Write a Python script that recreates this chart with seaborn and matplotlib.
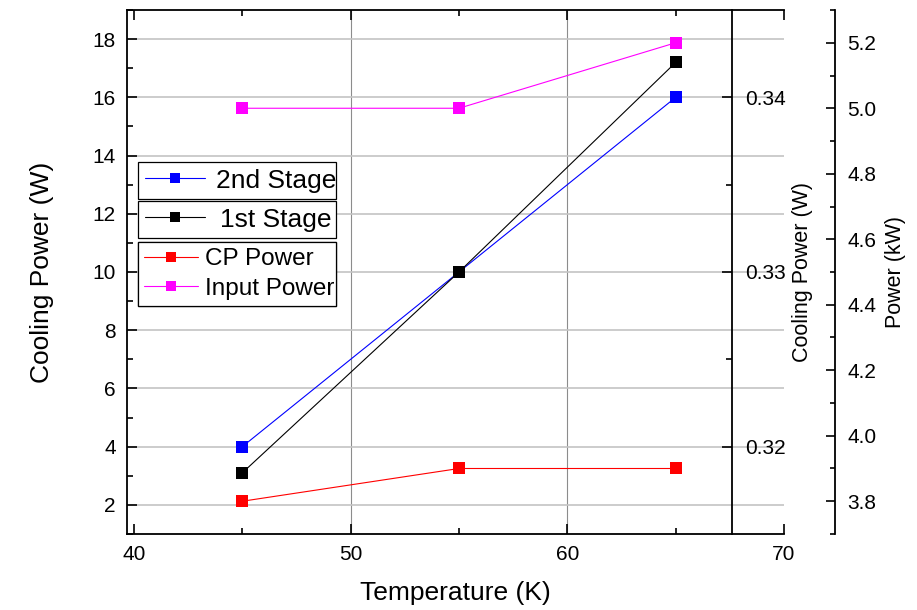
import numpy as np
import seaborn as sns
import matplotlib.pyplot as plt
from matplotlib.lines import Line2D
from matplotlib.ticker import MultipleLocator, FixedLocator, FormatStrFormatter

temps = [45, 55, 65]
stage2 = [4.0, 10.0, 16.0]
stage1 = [3.1, 10.0, 17.2]
cp_power = [3.8, 3.9, 3.9]
input_power = [5.0, 5.0, 5.2]

sns.set_theme(style="ticks")
plt.rcParams["font.family"] = ["Liberation Sans", "DejaVu Sans"]
for k in ["text.color", "axes.labelcolor", "xtick.color", "ytick.color", "axes.edgecolor"]:
    plt.rcParams[k] = "black"

fig = plt.figure(figsize=(9.17, 6.10), dpi=100)
ax = fig.add_axes([0.1385, 0.1246, 0.7165, 0.8590])
ax2 = ax.twinx()
ax3 = ax.twinx()

lw = 0.8
ms = 8
series = [
    (ax, stage2, "blue", "2nd Stage"),
    (ax, stage1, "black", "1st Stage"),
    (ax3, cp_power, "red", "CP Power"),
    (ax3, input_power, "magenta", "Input Power"),
]
for a, vals, col, name in series:
    sns.lineplot(x=temps, y=vals, ax=a, color=col, lw=lw, marker="s",
                 markersize=ms, markeredgewidth=0, legend=False)

# main axes
ax.set_xlim(39.68, 70)
ax.set_ylim(1, 19)
ax.set_xticks([40, 50, 60, 70])
ax.xaxis.set_minor_locator(MultipleLocator(5))
ax.set_yticks(np.arange(2, 19, 2))
ax.yaxis.set_minor_locator(MultipleLocator(1))
ax.set_axisbelow(True)
ax.yaxis.grid(True, color="#c4c4c4", lw=1.2)
ax.xaxis.grid(True, color="#8c8c8c", lw=0.8)
for gl, t in zip(ax.xaxis.get_gridlines(), ax.get_xticks()):
    if t in (40, 70):
        gl.set_visible(False)
ax.spines["right"].set_visible(False)
for s in ["left", "bottom", "top"]:
    ax.spines[s].set_linewidth(1.3)
ax.tick_params(axis="both", which="both", direction="in", top=True, right=False,
               labelsize=15, width=1.2)
ax.tick_params(which="major", length=7, pad=8)
ax.tick_params(which="minor", length=4.5)
ax.set_xlabel("Temperature (K)", fontsize=19, labelpad=12)
ax.set_ylabel("Cooling Power (W)", fontsize=19, labelpad=28)

# inner right axis
ax2.set_ylim(0.315, 0.345)
ax2.yaxis.set_major_locator(FixedLocator([0.32, 0.33, 0.34]))
ax2.yaxis.set_minor_locator(FixedLocator([0.325, 0.335]))
ax2.yaxis.set_major_formatter(FormatStrFormatter("%.2f"))
ax2.spines["right"].set_position(("axes", 0.921))
ax2.spines["right"].set_linewidth(1.3)
for s in ["left", "top", "bottom"]:
    ax2.spines[s].set_visible(False)
ax2.tick_params(axis="y", which="both", direction="in", labelsize=15, width=1.2)
ax2.tick_params(axis="y", which="major", length=7, pad=9)
ax2.tick_params(axis="y", which="minor", length=4)
ax2.set_ylabel("Cooling Power (W)", fontsize=15.5, labelpad=5)

# outer right axis
ax3.set_ylim(3.7, 5.3)
ax3.yaxis.set_major_locator(FixedLocator(np.round(np.arange(3.8, 5.21, 0.2), 1)))
ax3.yaxis.set_minor_locator(MultipleLocator(0.1))
ax3.yaxis.set_major_formatter(FormatStrFormatter("%.1f"))
ax3.spines["right"].set_position(("axes", 1.0776))
ax3.spines["right"].set_linewidth(1.3)
for s in ["left", "top", "bottom"]:
    ax3.spines[s].set_visible(False)
ax3.tick_params(axis="y", which="both", direction="in", labelsize=15, width=1.2)
ax3.tick_params(axis="y", which="major", length=6.5, pad=9)
ax3.tick_params(axis="y", which="minor", length=3.5)
ax3.set_ylabel("Power (kW)", fontsize=15.5, labelpad=6)

# legends: three stacked boxes
def handle(col):
    return Line2D([], [], color=col, lw=lw, marker="s", markersize=7, markeredgewidth=0)

groups = [
    ([handle("blue")], ["2nd Stage"], 0.710, 19, 2.3, 0.4),
    ([handle("black")], ["1st Stage"], 0.6355, 19, 2.3, 0.55),
    ([handle("red"), handle("magenta")], ["CP Power", "Input Power"], 0.557, 17.5, 2.2, 0.3),
]
for hs, labs, top, fs, hlen, tpad in groups:
    leg = ax3.legend(hs, labs, loc="upper left", bbox_to_anchor=(0.0167, top, 0.3014, 0),
                     mode="expand", borderaxespad=0, fontsize=fs, handlelength=hlen,
                     handletextpad=tpad, borderpad=0.25, labelspacing=0.3,
                     frameon=True, fancybox=False, framealpha=1, edgecolor="black")
    leg.get_frame().set_linewidth(0.9)
    ax3.add_artist(leg)

fig.savefig("out.png", dpi=100)
